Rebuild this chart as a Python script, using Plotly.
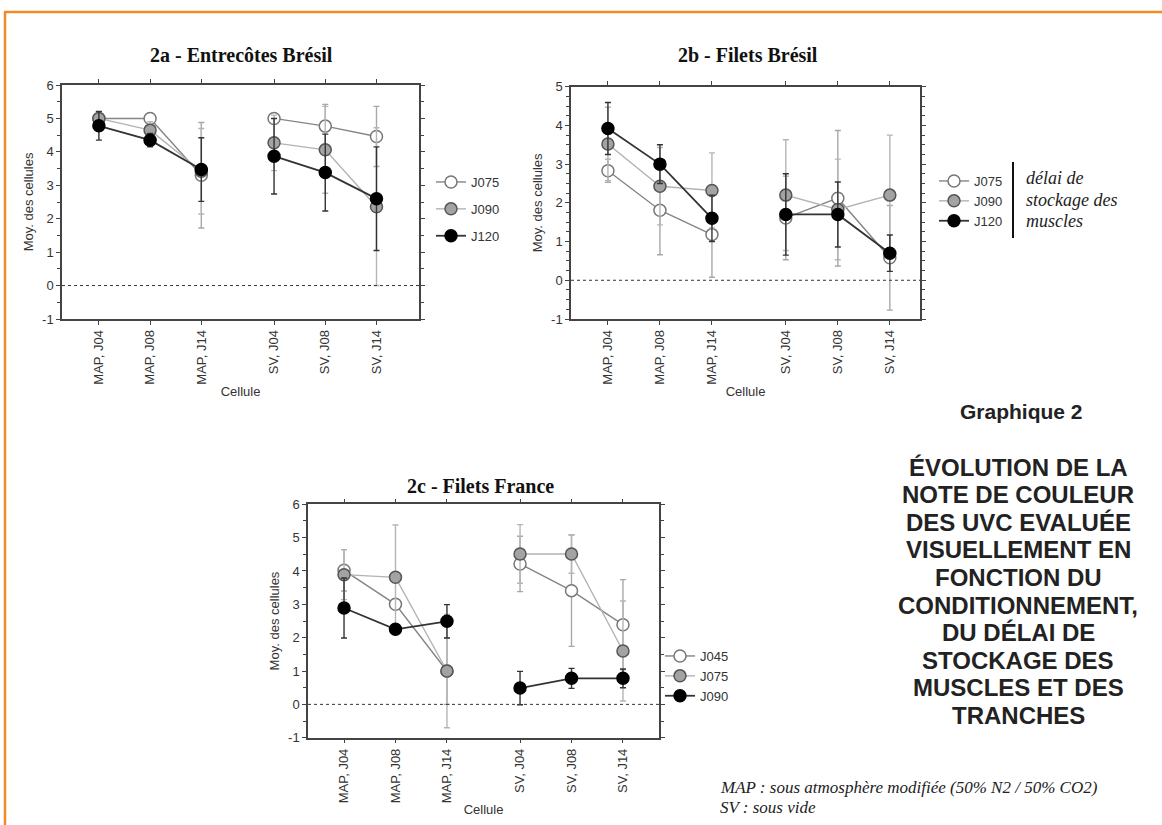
import plotly.graph_objects as go

# ---------------- DATA ----------------
categories = ["MAP, J04", "MAP, J08", "MAP, J14", "SV, J04", "SV, J08", "SV, J14"]
groups = ["MAP", "MAP", "MAP", "SV", "SV", "SV"]

# 2a - Entrecôtes Brésil
a_names = ["J075", "J090", "J120"]
a_J075 = [5.0, 5.0, 3.3, 5.0, 4.77, 4.46]
a_J075_err = [0.2, 0.1, 1.58, 0.08, 0.65, 0.9]
a_J090 = [5.0, 4.65, 3.42, 4.27, 4.06, 2.36]
a_J090_err = [0.2, 0.25, 1.28, 0.83, 1.3, 2.36]
a_J120 = [4.78, 4.35, 3.47, 3.87, 3.38, 2.6]
a_J120_err = [0.43, 0.2, 0.95, 1.13, 1.15, 1.55]

# 2b - Filets Brésil
b_names = ["J075", "J090", "J120"]
b_J075 = [2.83, 1.81, 1.18, 1.61, 2.12, 0.58]
b_J075_err = [0.3, 1.15, 1.1, 1.08, 1.75, 1.35]
b_J090 = [3.52, 2.43, 2.32, 2.2, 1.83, 2.2]
b_J090_err = [0.95, 1.0, 0.97, 1.43, 1.3, 1.55]
b_J120 = [3.92, 3.0, 1.6, 1.7, 1.7, 0.7]
b_J120_err = [0.67, 0.5, 0.6, 1.05, 0.84, 0.47]

# 2c - Filets France
c_names = ["J045", "J075", "J090"]
c_J045 = [4.02, 3.0, 1.0, 4.21, 3.41, 2.39]
c_J045_err = [0.62, 0.15, 1.0, 0.83, 1.67, 1.35]
c_J075 = [3.89, 3.81, 1.0, 4.51, 4.51, 1.6]
c_J075_err = [0.75, 1.57, 1.7, 0.88, 0.58, 1.5]
c_J090 = [2.89, 2.25, 2.49, 0.49, 0.78, 0.78]
c_J090_err = [0.9, 0.1, 0.5, 0.5, 0.3, 0.28]

y_ticks_a = [-1, 0, 1, 2, 3, 4, 5, 6]
y_ticks_b = [-1, 0, 1, 2, 3, 4, 5]
y_ticks_c = [-1, 0, 1, 2, 3, 4, 5, 6]

panel_titles = ["2a - Entrecôtes Brésil", "2b - Filets Brésil", "2c - Filets France"]
side_title = "Graphique 2"
side_lines = ["ÉVOLUTION DE LA", "NOTE DE COULEUR", "DES UVC EVALUÉE", "VISUELLEMENT EN",
              "FONCTION DU", "CONDITIONNEMENT,", "DU DÉLAI DE", "STOCKAGE DES",
              "MUSCLES ET DES", "TRANCHES"]
legend_note = ["délai de", "stockage des", "muscles"]
footnotes = ["MAP : sous atmosphère modifiée (50% N2 / 50% CO2)", "SV : sous vide"]

# ---------------- LAYOUT HELPERS ----------------
W, H = 1162, 825
GROUP_GAP = 0.42
group_order = ["MAP", "SV"]
x_pos = [i + GROUP_GAP * group_order.index(g) for i, g in enumerate(groups)]


def with_gap(vals, fill=None):
    out = []
    for i, v in enumerate(vals):
        if i > 0 and groups[i] != groups[i - 1]:
            out.append(fill)
        out.append(v)
    return out


def px(x):
    return x / W


def py(y):
    return 1 - y / H


styles = [
    dict(fill="#ffffff", edge="#777777", line="#858585", err="#a8a8a8", lw=1.4),
    dict(fill="#a3a3a3", edge="#555555", line="#b3b3b3", err="#b5b5b5", lw=1.4),
    dict(fill="#000000", edge="#000000", line="#333333", err="#333333", lw=1.8),
]

fig = go.Figure()

panels = [
    ("x", "y", "legend", a_names, [a_J075, a_J090, a_J120], [a_J075_err, a_J090_err, a_J120_err]),
    ("x2", "y2", "legend2", b_names, [b_J075, b_J090, b_J120], [b_J075_err, b_J090_err, b_J120_err]),
    ("x3", "y3", "legend3", c_names, [c_J045, c_J075, c_J090], [c_J045_err, c_J075_err, c_J090_err]),
]

for pi, (xa, ya, lg, names, vals, errs) in enumerate(panels):
    for si, (nm, v, e) in enumerate(zip(names, vals, errs)):
        st = styles[si]
        fig.add_trace(go.Scatter(
            x=with_gap(x_pos), y=with_gap(v), name=nm,
            xaxis=xa, yaxis=ya, legend=lg, legendgroup=f"{lg}_{si}",
            mode="lines+markers", connectgaps=False,
            line=dict(color=st["line"], width=st["lw"]),
            marker=dict(size=12, color=st["fill"], line=dict(color=st["edge"], width=1.5)),
            error_y=dict(type="data", array=with_gap(e, 0), visible=True,
                         color=st["err"], thickness=1.4, width=3),
        ))

axis_font = dict(family="Liberation Sans, Arial", size=13, color="#333333")
common = dict(showline=True, linecolor="#444444", linewidth=1.5, mirror="ticks",
              ticks="outside", ticklen=4, tickcolor="#444444", tickwidth=1,
              showgrid=False, zeroline=False, tickfont=axis_font, automargin=False)

domains = [
    dict(x=[px(62), px(419)], y=[py(319), py(85)], xr=[-0.72, 6.25], yr=[-1, 6], yt=y_ticks_a, minor=0.5),
    dict(x=[px(571), px(920)], y=[py(319), py(86.7)], xr=[-0.71, 6.0], yr=[-1, 5], yt=y_ticks_b, minor=0.25),
    dict(x=[px(308), px(659)], y=[py(737.7), py(504.3)], xr=[-0.70, 6.12], yr=[-1, 6], yt=y_ticks_c, minor=0.5),
]

for i, d in enumerate(domains):
    sfx = "" if i == 0 else str(i + 1)
    fig.layout["xaxis" + sfx] = dict(
        common, domain=d["x"], anchor="y" + sfx, range=d["xr"],
        tickmode="array", tickvals=x_pos, ticktext=categories, tickangle=-90,
        title=dict(text="Cellule", font=dict(axis_font, size=13), standoff=3),
    )
    fig.layout["yaxis" + sfx] = dict(
        common, domain=d["y"], anchor="x" + sfx, range=d["yr"],
        tickmode="array", tickvals=d["yt"], ticktext=[str(v) for v in d["yt"]],
        minor=dict(dtick=d["minor"], ticklen=3, ticks="outside", tickcolor="#444444"),
        title=dict(text="Moy. des cellules", font=dict(axis_font, size=13), standoff=6),
    )
    fig.add_shape(type="line", xref=f"x{sfx} domain", yref="y" + sfx,
                  x0=0, x1=1, y0=0, y1=0, line=dict(color="#333333", width=1, dash="dot"))

leg_common = dict(xanchor="left", yanchor="top", bgcolor="rgba(0,0,0,0)",
                  font=dict(family="Liberation Sans, Arial", size=13, color="#333333"),
                  itemwidth=30, traceorder="grouped")
fig.update_layout(
    legend=dict(leg_common, x=px(431), y=py(167), tracegroupgap=7),
    legend2=dict(leg_common, x=px(934), y=py(166), tracegroupgap=0),
    legend3=dict(leg_common, x=px(660), y=py(641), tracegroupgap=0),
)

# panel titles
title_pos = [(241, 55), (748, 55), (480, 486)]
for t, (tx, ty) in zip(panel_titles, title_pos):
    fig.add_annotation(text=t, x=px(tx), y=py(ty), xref="paper", yref="paper",
                       showarrow=False, xanchor="center", yanchor="middle",
                       font=dict(family="Liberation Serif, Times New Roman", size=20,
                                 color="#111111", weight="bold"))

# legend note with bar
fig.add_shape(type="line", xref="paper", yref="paper", x0=px(1013), x1=px(1013),
              y0=py(162), y1=py(238), line=dict(color="#111111", width=2))
for k, t in enumerate(legend_note):
    fig.add_annotation(text=t, x=px(1024), y=py(178 + 21.5 * k), xref="paper", yref="paper",
                       showarrow=False, xanchor="left", yanchor="middle",
                       font=dict(family="Liberation Serif, Times New Roman", size=18,
                                 color="#222222", style="italic"))

# side title block
fig.add_annotation(text=side_title, x=px(1021), y=py(411), xref="paper", yref="paper",
                   showarrow=False, xanchor="center", yanchor="middle",
                   font=dict(family="Liberation Sans, Arial", size=21, color="#222222", weight="bold"))
for k, t in enumerate(side_lines):
    fig.add_annotation(text=t, x=px(1018), y=py(467 + 27.6 * k), xref="paper", yref="paper",
                       showarrow=False, xanchor="center", yanchor="middle",
                       font=dict(family="Liberation Sans, Arial", size=24, color="#222222", weight="bold"))

for k, t in enumerate(footnotes):
    fig.add_annotation(text=t, x=px(718), y=py(787 + 20 * k), xref="paper", yref="paper",
                       showarrow=False, xanchor="left", yanchor="middle",
                       font=dict(family="Liberation Serif, Times New Roman", size=17,
                                 color="#222222", style="italic"))

# orange frame
fig.add_shape(type="line", xref="paper", yref="paper", x0=px(4), x1=1, y0=py(12), y1=py(12),
              line=dict(color="#f08a24", width=2.5))
fig.add_shape(type="line", xref="paper", yref="paper", x0=px(5), x1=px(5), y0=py(12), y1=0,
              line=dict(color="#f08a24", width=2.5))

fig.update_layout(width=W, height=H, autosize=False,
                  margin=dict(l=0, r=0, t=0, b=0),
                  paper_bgcolor="white", plot_bgcolor="white",
                  showlegend=True)

fig.write_html("out.html", config={"displayModeBar": False},
               post_script="document.body.style.margin='0px';")
